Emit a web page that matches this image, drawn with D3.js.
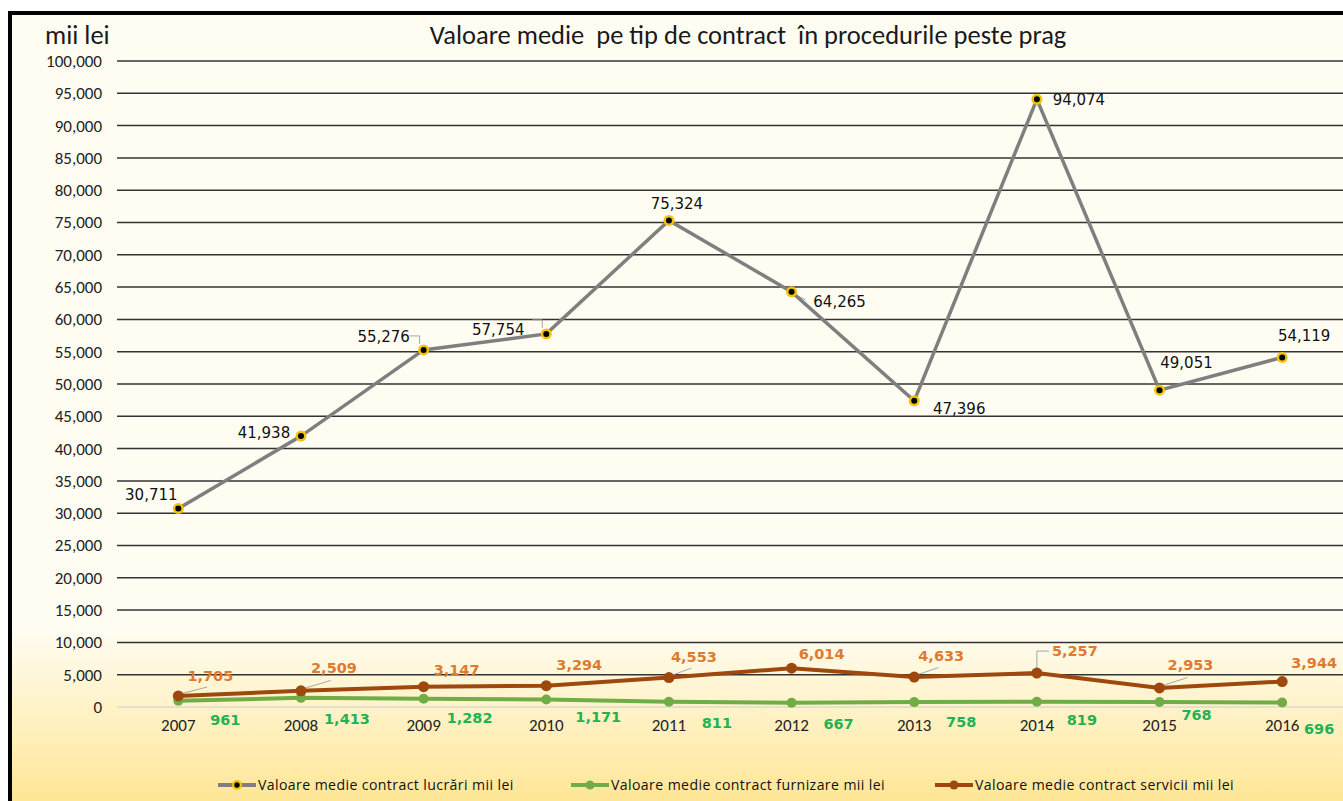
<!DOCTYPE html>
<html>
<head>
<meta charset="utf-8">
<script src="https://cdn.jsdelivr.net/npm/d3@7"></script>
<style>
  body { margin: 0; background: #fff; }
  svg { display: block; }
</style>
</head>
<body>
<div id="chart"></div>
<script>
const years = ['2007', '2008', '2009', '2010', '2011', '2012', '2013', '2014', '2015', '2016'];
const lucrari = [30711, 41938, 55276, 57754, 75324, 64265, 47396, 94074, 49051, 54119];
const furnizare = [961, 1413, 1282, 1171, 811, 667, 758, 819, 768, 696];
const servicii = [1705, 2509, 3147, 3294, 4553, 6014, 4633, 5257, 2953, 3944];
const yTicks = d3.range(0, 100001, 5000);
const seriesNames = [
    'Valoare medie contract lucrări mii lei',
    'Valoare medie contract furnizare mii lei',
    'Valoare medie contract servicii mii lei'
];

// label offsets (dx, dy) of the label centre relative to the point
const lucrariLbl = [[-27, -14], [-37, -3], [-40, -13], [-48, -4], [8, -17], [48, 10], [45, 8], [42, 0], [27, -27], [22, -22]];
const serviciiLbl = [[32, -20], [33, -23], [33, -17], [33, -21], [25, -21], [30, -14], [27, -21], [38, -22], [31, -23], [32, -19]];
const furnizareLbl = [[47, 19], [46, 21], [46, 19], [52, 17], [48, 21], [47, 21], [47, 20], [45, 18], [37, 13], [37, 26]];
const leaders = {
    lucrari: [2, 3, 5],
    servicii: [0, 1, 4, 6, 7, 8]
};

const W = 1343, H = 801;
const margin = { top: 61, left: 117 };
const plotBottom = 707;
const calibri = 'Carlito, Calibri, "Open Sans", sans-serif';

const svg = d3.select('#chart').append('svg')
    .attr('width', W)
    .attr('height', H);

const grad = svg.append('defs').append('linearGradient')
    .attr('id', 'bg')
    .attr('x1', 0).attr('y1', 0).attr('x2', 0).attr('y2', 1);
grad.append('stop').attr('offset', '0%').attr('stop-color', '#fffdf2');
grad.append('stop').attr('offset', '76%').attr('stop-color', '#fffdf2');
grad.append('stop').attr('offset', '100%').attr('stop-color', '#ffe38a');

svg.append('rect')
    .attr('x', 10).attr('y', 13)
    .attr('width', W + 10).attr('height', H + 10)
    .attr('fill', 'url(#bg)')
    .attr('stroke', '#000')
    .attr('stroke-width', 4);

const x = d3.scaleBand()
    .domain(years)
    .range([margin.left, W + 0.5])
    .padding(0);

const y = d3.scaleLinear()
    .domain([0, 100000])
    .range([plotBottom, margin.top]);

const cx = d => x(d) + x.bandwidth() / 2;

// gridlines
svg.append('g')
    .selectAll('line')
    .data(yTicks.filter(d => d > 0))
    .join('line')
    .attr('x1', margin.left).attr('x2', W)
    .attr('y1', d => y(d)).attr('y2', d => y(d))
    .attr('stroke', '#333')
    .attr('stroke-width', 1.5);

svg.append('line')
    .attr('x1', margin.left).attr('x2', W)
    .attr('y1', y(0)).attr('y2', y(0))
    .attr('stroke', '#c9ccd6')
    .attr('stroke-width', 1.2);

// y axis labels
const yAxis = svg.append('g')
    .attr('transform', `translate(${margin.left},0)`)
    .call(d3.axisLeft(y).tickValues(yTicks).tickSize(0).tickPadding(15).tickFormat(d3.format(',')));
yAxis.select('.domain').remove();
yAxis.selectAll('text')
    .attr('font-family', calibri)
    .attr('font-size', 17)
    .attr('fill', '#222');

// x axis labels
const xAxis = svg.append('g')
    .attr('transform', `translate(0,${plotBottom})`)
    .call(d3.axisBottom(x).tickSize(0).tickPadding(12));
xAxis.select('.domain').remove();
xAxis.selectAll('text')
    .attr('font-family', calibri)
    .attr('font-size', 17)
    .attr('fill', '#222');

// titles
svg.append('text')
    .attr('x', 748).attr('y', 44)
    .attr('text-anchor', 'middle')
    .attr('font-family', calibri)
    .attr('font-size', 26.5)
    .attr('fill', '#1a1a1a')
    .attr('xml:space', 'preserve')
    .text('Valoare medie  pe tip de contract  în procedurile peste prag');

svg.append('text')
    .attr('x', 45).attr('y', 44)
    .attr('font-family', calibri)
    .attr('font-size', 26.5)
    .attr('fill', '#1a1a1a')
    .text('mii lei');

const line = d3.line()
    .x((d, i) => cx(years[i]))
    .y(d => y(d));

// servicii leader lines
svg.append('g')
    .selectAll('path')
    .data(leaders.servicii)
    .join('path')
    .attr('d', i => {
        const px = cx(years[i]), py = y(servicii[i]);
        if (i === 7) return `M${px},${py - 3} L${px},${py - 22} L${px + 12},${py - 22}`;
        return `M${px + 2},${py - 2} L${px + serviciiLbl[i][0] * 0.9},${py + serviciiLbl[i][1] * 0.45}`;
    })
    .attr('fill', 'none')
    .attr('stroke', '#a6a6a6')
    .attr('stroke-width', 1);

// lucrari leader lines
svg.append('g')
    .selectAll('path')
    .data(leaders.lucrari)
    .join('path')
    .attr('d', i => {
        const px = cx(years[i]), py = y(lucrari[i]);
        if (i === 5) return `M${px + 4},${py + 3} L${px + 14},${py + 8}`;
        return `M${px - 14},${py - 14} L${px - 4},${py - 14} L${px - 4},${py - 6}`;
    })
    .attr('fill', 'none')
    .attr('stroke', '#a6a6a6')
    .attr('stroke-width', 1);

// furnizare
svg.append('path')
    .datum(furnizare)
    .attr('d', line)
    .attr('fill', 'none')
    .attr('stroke', '#70ad47')
    .attr('stroke-width', 4);
svg.append('g')
    .selectAll('circle')
    .data(furnizare)
    .join('circle')
    .attr('cx', (d, i) => cx(years[i]))
    .attr('cy', d => y(d))
    .attr('r', 5)
    .attr('fill', '#70ad47');

// servicii
svg.append('path')
    .datum(servicii)
    .attr('d', line)
    .attr('fill', 'none')
    .attr('stroke', '#9e480e')
    .attr('stroke-width', 4);
svg.append('g')
    .selectAll('circle')
    .data(servicii)
    .join('circle')
    .attr('cx', (d, i) => cx(years[i]))
    .attr('cy', d => y(d))
    .attr('r', 5.5)
    .attr('fill', '#9e480e');

// lucrari
svg.append('path')
    .datum(lucrari)
    .attr('d', line)
    .attr('fill', 'none')
    .attr('stroke', '#7f7f7f')
    .attr('stroke-width', 3.5);
const lm = svg.append('g')
    .selectAll('g')
    .data(lucrari)
    .join('g')
    .attr('transform', (d, i) => `translate(${cx(years[i])},${y(d)})`);
lm.append('circle').attr('r', 5.5).attr('fill', '#f2c300');
lm.append('circle').attr('r', 3).attr('fill', '#000');

// data labels
const fmt = d3.format(',');
function labels(values, offsets, size, weight, color) {
    svg.append('g')
        .selectAll('text')
        .data(values)
        .join('text')
        .attr('x', (d, i) => cx(years[i]) + offsets[i][0])
        .attr('y', (d, i) => y(d) + offsets[i][1])
        .attr('dy', '0.35em')
        .attr('text-anchor', 'middle')
        .attr('font-family', '"DejaVu Sans", Verdana, sans-serif')
        .attr('font-weight', weight)
        .attr('font-size', size)
        .attr('fill', color)
        .text(d => fmt(d));
}
labels(lucrari, lucrariLbl, 15, 'normal', '#111');
labels(servicii, serviciiLbl, 14.5, 'bold', '#e07a2e');
labels(furnizare, furnizareLbl, 14.5, 'bold', '#1fb355');

// legend
const legendX = [218, 571, 935];
const legendColors = ['#7f7f7f', '#70ad47', '#9e480e'];
const lg = svg.append('g')
    .selectAll('g')
    .data(seriesNames)
    .join('g')
    .attr('transform', (d, i) => `translate(${legendX[i]},785)`);
lg.append('line')
    .attr('x1', 0).attr('x2', 38)
    .attr('stroke', (d, i) => legendColors[i])
    .attr('stroke-width', 4);
lg.each(function(d, i) {
    const g = d3.select(this);
    if (i === 0) {
        g.append('circle').attr('cx', 19).attr('r', 5).attr('fill', '#f2c300');
        g.append('circle').attr('cx', 19).attr('r', 2.7).attr('fill', '#000');
    } else {
        g.append('circle').attr('cx', 19).attr('r', 4.5).attr('fill', legendColors[i]);
    }
});
lg.append('text')
    .attr('x', 40).attr('y', 5)
    .attr('font-family', '"Liberation Sans Narrow", "Open Sans", sans-serif')
    .attr('font-size', 14.1)
    .attr('letter-spacing', 0.4)
    .attr('fill', '#111')
    .text(d => d);
</script>
</body>
</html>
